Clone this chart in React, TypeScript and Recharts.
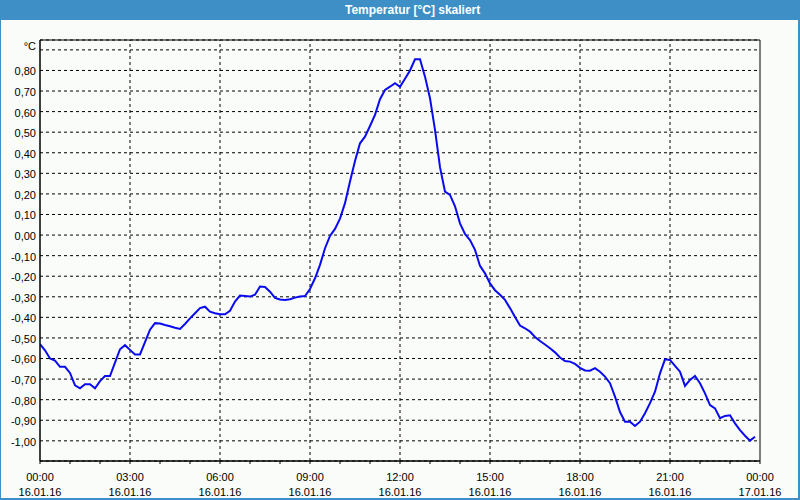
import React from 'react';
import {
  LineChart, Line, XAxis, YAxis, CartesianGrid, ReferenceLine, ReferenceArea,
} from 'recharts';

// 10-minute samples, 16.01.16 00:00 .. 23:50
const temps = [
  -0.53, -0.56, -0.60, -0.61, -0.64, -0.64, -0.67, -0.73, -0.745, -0.725, -0.725, -0.745,
  -0.71, -0.685, -0.685, -0.62, -0.555, -0.535, -0.558, -0.58, -0.58, -0.52, -0.46, -0.428,
  -0.43, -0.437, -0.443, -0.45, -0.456, -0.432, -0.405, -0.38, -0.355, -0.348, -0.372, -0.38,
  -0.385, -0.385, -0.368, -0.323, -0.294, -0.296, -0.299, -0.29, -0.25, -0.252, -0.275, -0.305,
  -0.313, -0.315, -0.312, -0.304, -0.299, -0.296, -0.262, -0.21, -0.145, -0.064, -0.004, 0.03,
  0.08, 0.155, 0.26, 0.36, 0.446, 0.478, 0.53, 0.584, 0.66, 0.705, 0.721, 0.738,
  0.721, 0.76, 0.80, 0.854, 0.854, 0.77, 0.665, 0.511, 0.33, 0.211, 0.195, 0.14,
  0.057, 0.005, -0.024, -0.072, -0.15, -0.186, -0.235, -0.268, -0.29, -0.315, -0.355, -0.398,
  -0.44, -0.453, -0.469, -0.495, -0.515, -0.532, -0.55, -0.57, -0.595, -0.612, -0.615, -0.626,
  -0.645, -0.658, -0.659, -0.647, -0.664, -0.688, -0.72, -0.785, -0.86, -0.907, -0.907, -0.928,
  -0.907, -0.866, -0.817, -0.761, -0.672, -0.604, -0.607, -0.636, -0.664, -0.733, -0.704, -0.685,
  -0.72, -0.769, -0.826, -0.842, -0.89, -0.879, -0.876, -0.915, -0.948, -0.975, -0.999, -0.98,
];

const hourTicks = [0, 60, 120, 180, 240, 300, 360, 420, 480, 540, 600, 660, 720, 780, 840, 900,
  960, 1020, 1080, 1140, 1200, 1260, 1320, 1380, 1440];
const gridMinutes = [180, 360, 540, 720, 900, 1080, 1260];
const timeLabels: Record<number, [string, string]> = {
  0: ['00:00', '16.01.16'],
  180: ['03:00', '16.01.16'],
  360: ['06:00', '16.01.16'],
  540: ['09:00', '16.01.16'],
  720: ['12:00', '16.01.16'],
  900: ['15:00', '16.01.16'],
  1080: ['18:00', '16.01.16'],
  1260: ['21:00', '16.01.16'],
  1440: ['00:00', '17.01.16'],
};
const yTicks = [-1.0, -0.9, -0.8, -0.7, -0.6, -0.5, -0.4, -0.3, -0.2, -0.1, 0, 0.1, 0.2, 0.3, 0.4, 0.5, 0.6, 0.7, 0.8, 0.9];
const yMin = -1.098;
const yMax = 0.948;

const data = temps.map((t, i) => ({ min: i * 10, temp: t }));

const FONT = '"Liberation Sans", Arial, sans-serif';

const XTick = ({ x, y, payload }: any) => {
  const lbl = timeLabels[payload.value];
  if (!lbl) return null;
  return (
    <text x={x} y={y} textAnchor="middle" fontFamily={FONT} fontSize={11} fill="#000">
      <tspan x={x} dy={15}>{lbl[0]}</tspan>
      <tspan x={x} dy={15}>{lbl[1]}</tspan>
    </text>
  );
};

const YTick = ({ x, y, payload }: any) => {
  const v = payload.value;
  if (v > 0.85) {
    return (
      <text x={x} y={y - 4} dy="0.355em" textAnchor="end" fontFamily={FONT} fontSize={11} fill="#000">°C</text>
    );
  }
  return (
    <text x={x} y={y + 1} dy="0.355em" textAnchor="end" fontFamily={FONT} fontSize={11} fill="#000">
      {v.toFixed(2).replace('.', ',')}
    </text>
  );
};

export default function App() {
  return (
    <div style={{ position: 'fixed', left: 0, top: 0, width: 800, height: 500, background: '#3d8fc6' }}>
      <div style={{
        position: 'absolute', left: 0, top: 0, width: 800, height: 20, lineHeight: '20px',
        color: '#fff', fontFamily: FONT, fontWeight: 'bold', fontSize: 12,
      }}>
        <span style={{ position: 'absolute', left: 345, top: 0 }}>Temperatur [°C] skaliert</span>
      </div>
      <div style={{ position: 'absolute', left: 1, top: 20, width: 797, height: 478, background: '#fafcfa' }} />
      <div style={{ position: 'absolute', left: 0, top: 0 }}>
        <LineChart width={800} height={500} data={data} margin={{ top: 40, right: 40, left: 0, bottom: 9 }}>
          <CartesianGrid vertical={false} stroke="#000" strokeDasharray="3 3" />
          {gridMinutes.map(m => (
            <ReferenceLine key={m} x={m} stroke="#000" strokeDasharray="3 3" />
          ))}
          <ReferenceArea x1={0} x2={1440} y1={yMin} y2={yMax} fill="none" stroke="#000" strokeWidth={1} />
          <XAxis
            dataKey="min" type="number" domain={[0, 1440]} ticks={hourTicks}
            height={30} tickSize={3} tickLine={{ stroke: '#000' }} axisLine={{ stroke: '#000' }}
            tick={<XTick />} interval={0} allowDataOverflow
          />
          <YAxis
            type="number" domain={[yMin, yMax]} ticks={yTicks} width={40}
            tickSize={0} tickMargin={4} tickLine={false} axisLine={{ stroke: '#000' }}
            tick={<YTick />} interval={0} allowDataOverflow
          />
          <Line
            type="linear" dataKey="temp" stroke="#0a0af0" strokeWidth={2} dot={false}
            isAnimationActive={false}
          />
        </LineChart>
      </div>
    </div>
  );
}
